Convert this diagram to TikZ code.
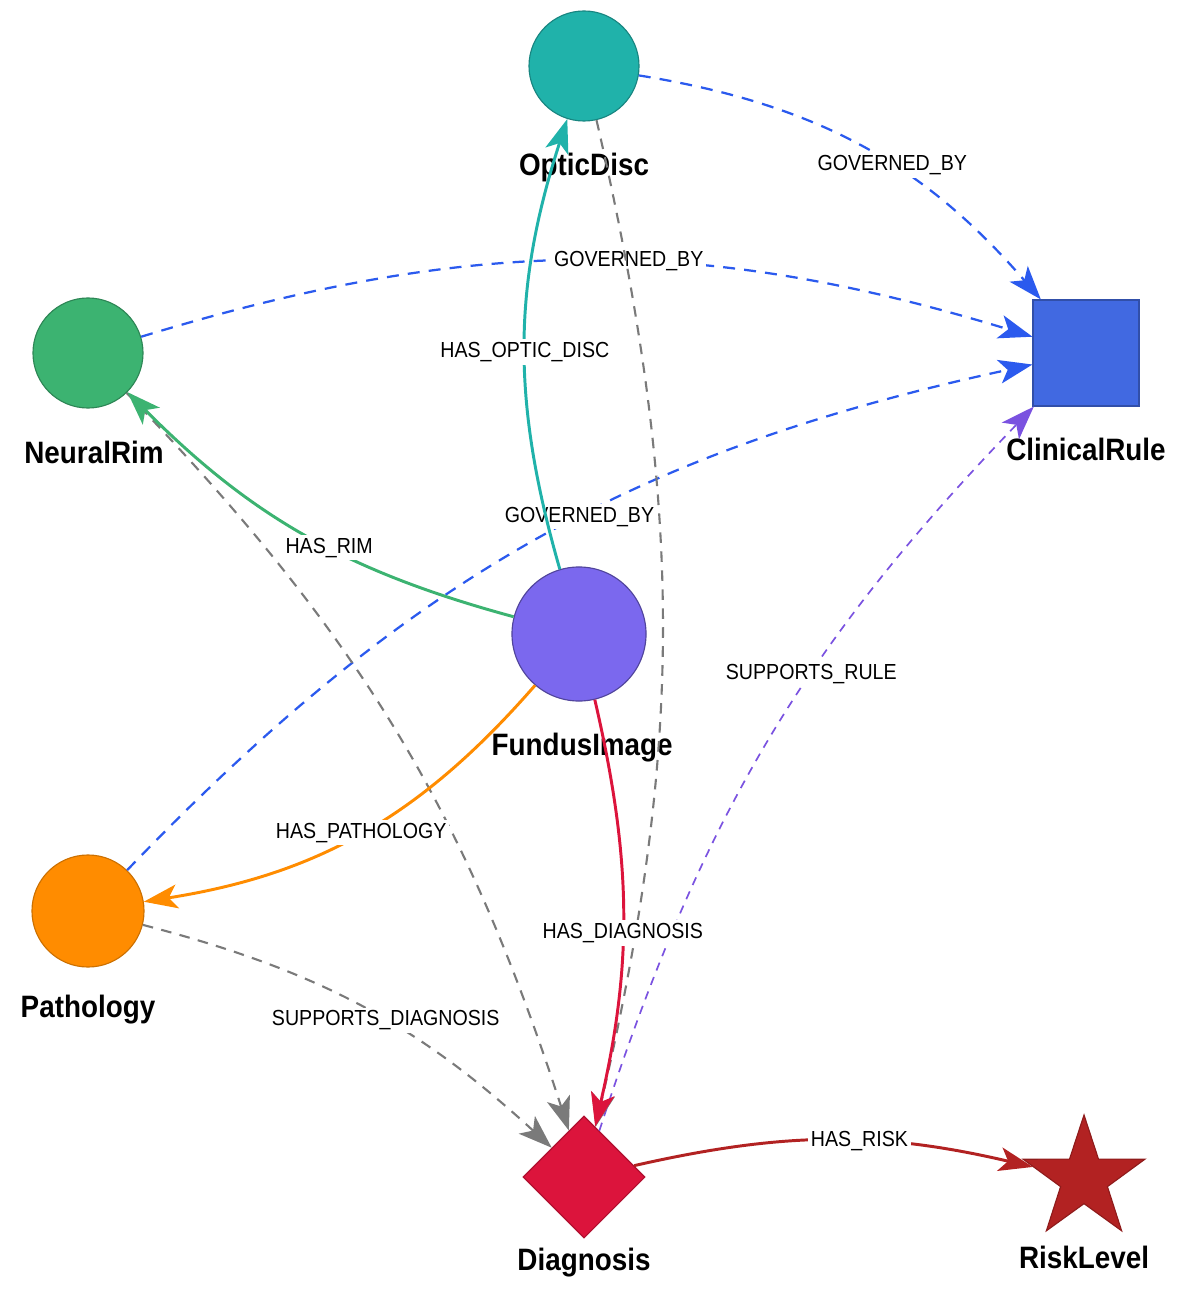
\documentclass[tikz,border=0pt]{standalone}
\usepackage{fontspec}
\setmainfont{Liberation Sans}
\newfontfamily\narrowfont[FakeStretch=0.9]{Liberation Sans}
\usetikzlibrary{shapes.geometric, arrows.meta, positioning}
\tikzset{>={Stealth[length=24pt, width=17pt, inset=6pt]}}

\definecolor{tealc}{HTML}{20B2AA}
\definecolor{greenc}{HTML}{3CB371}
\definecolor{bluec}{HTML}{4169E1}
\definecolor{purplec}{HTML}{7B68EE}
\definecolor{orangec}{HTML}{FF8C00}
\definecolor{crimsonc}{HTML}{DC143C}
\definecolor{firec}{HTML}{B22222}
\definecolor{govblue}{HTML}{2B5AEE}
\definecolor{supviolet}{HTML}{7A52E0}
\definecolor{supgray}{HTML}{7A7A7A}

\begin{document}
\begin{tikzpicture}[x=0.025cm, y=0.025cm,
  entity/.style={circle, inner sep=0pt, line width=0.8pt},
  title/.style={font=\narrowfont\bfseries\fontsize{22}{26}\selectfont, inner sep=0pt},
  rel/.style={font=\narrowfont\fontsize{15.5}{18}\selectfont, text=black, fill=white, inner sep=2pt},
  hasrel/.style={->, line width=2.1pt},
  govrel/.style={->, govblue, line width=1.6pt, dash pattern=on 8.5pt off 6.5pt},
  suprel/.style={->, supgray, line width=1.5pt, dash pattern=on 7.5pt off 6pt}]

\useasboundingbox (0,0) rectangle (1199,-1312);

% Entities
\node[entity, fill=tealc, draw=tealc!75!black, minimum size=2.75cm] (optic) at (584,-66) {};
\node[entity, fill=greenc, draw=greenc!75!black, minimum size=2.75cm] (neural) at (88,-353) {};
\node[rectangle, inner sep=0pt, line width=0.8pt, fill=bluec, draw=bluec!75!black, minimum size=2.65cm] (rule) at (1086,-353) {};
\node[entity, fill=purplec, draw=purplec!65!black, minimum size=3.35cm] (fundus) at (579,-634) {};
\node[entity, fill=orangec, draw=orangec!80!black, minimum size=2.8cm] (patho) at (88,-911) {};
\node[diamond, inner sep=0pt, line width=0.8pt, fill=crimsonc, draw=crimsonc!80!black, minimum size=3.05cm] (diag) at (584,-1177) {};
\node[star, star points=5, star point ratio=2.6, inner sep=0pt, line width=0.8pt, fill=firec, draw=firec!80!black, minimum size=3.2cm] (risk) at (1084,-1179) {};

% Entity names
\node[title, below=0.78cm of optic] (optic-t) {OpticDisc};
\node[title, below=0.8cm of neural, xshift=0.15cm] (neural-t) {NeuralRim};
\node[title, below=0.78cm of rule] (rule-t) {ClinicalRule};
\node[title, below=0.78cm of fundus, xshift=0.08cm] (fundus-t) {FundusImage};
\node[title, below=0.68cm of patho] (patho-t) {Pathology};
\node[title, below=0.23cm of diag] (diag-t) {Diagnosis};
\node[title, below=1.66cm of risk.center] (risk-t) {RiskLevel};

% Governing rules
\draw[govrel] (optic) to[bend left=20] node[rel, pos=0.58] {GOVERNED\_BY} (rule);
\draw[govrel] (neural) to[bend left=17] node[rel, pos=0.55] {GOVERNED\_BY} (rule);
\draw[govrel] (patho) to[bend left=17] node[rel, pos=0.55] {GOVERNED\_BY} (rule);
\draw[->, supviolet, line width=1.2pt, dash pattern=on 6pt off 5pt] (diag) to[bend left=13] node[rel, pos=0.6] {SUPPORTS\_RULE} (rule);

% Evidence for the diagnosis
\draw[suprel] (optic) to[bend left=13] (diag);
\draw[suprel] (neural) to[bend left=13] (diag);
\draw[suprel] (patho) to[bend left=14] node[rel, pos=0.56] {SUPPORTS\_DIAGNOSIS} (diag);

% Image findings
\draw[hasrel, tealc] (fundus) to[bend left=17] node[rel, pos=0.48] {HAS\_OPTIC\_DISC} (optic);
\draw[hasrel, greenc] (fundus) to[bend left=15] node[rel, pos=0.43] {HAS\_RIM} (neural);
\draw[hasrel, orangec] (fundus) to[bend left=20] node[rel, pos=0.5] {HAS\_PATHOLOGY} (patho);
\draw[hasrel, crimsonc] (fundus) to[bend left=13] node[rel, pos=0.55] {HAS\_DIAGNOSIS} (diag);
\draw[hasrel, firec] (diag) to[bend left=13] node[rel, pos=0.57] {HAS\_RISK} (risk);

\end{tikzpicture}
\end{document}
